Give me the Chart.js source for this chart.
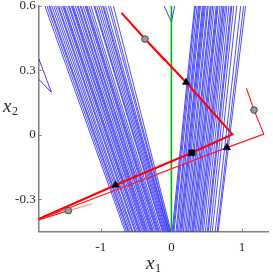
<!DOCTYPE html>
<html>
<head>
<meta charset="utf-8">
<script src="https://cdn.jsdelivr.net/npm/chart.js@4/dist/chart.umd.min.js"></script>
<style>
  html, body { margin: 0; padding: 0; background: #fff; }
  canvas { display: block; }
</style>
</head>
<body>
<canvas id="c" width="273" height="273"></canvas>
<script>
// ---- axis ranges & ticks ----
const X_RANGE = [-1.878, 1.367];
const Y_RANGE = [-0.451, 0.6];
const X_TICKS = [-1, 0, 1];
const Y_TICKS = [-0.3, 0, 0.3, 0.6];

// ---- blue line family (each line runs from the top edge to the bottom edge) ----
const LINE_Y_TOP = 0.6;
const LINE_Y_BOTTOM = -0.451;
const LEFT_TOP_X = [-1.791,-1.763,-1.736,-1.722,-1.694,-1.666,-1.639,-1.611,-1.597,-1.569,-1.542,-1.528,-1.514,-1.486,-1.459,-1.445,-1.417,-1.403,-1.389,-1.361,-1.334,-1.320,-1.292,-1.279,-1.251,-1.223,-1.209,-1.195,-1.168,-1.140,-1.098,-1.085,-1.057,-1.029,-1.001,-0.974,-0.960,-0.932,-0.891,-0.863,-0.821];
const LEFT_BOTTOM_X = [-0.655,-0.634,-0.614,-0.600,-0.579,-0.558,-0.544,-0.517,-0.503,-0.482,-0.461,-0.447,-0.434,-0.413,-0.392,-0.378,-0.364,-0.350,-0.336,-0.316,-0.295,-0.281,-0.267,-0.253,-0.233,-0.212,-0.198,-0.184,-0.169,-0.150,-0.127,-0.115,-0.100,-0.087,-0.073,-0.060,-0.046,-0.039,-0.025,-0.018,-0.004];
const RIGHT_BOTTOM_X = [0.010,0.024,0.037,0.065,0.079,0.100,0.120,0.134,0.148,0.169,0.190,0.211,0.231,0.245,0.266,0.287,0.301,0.315,0.335,0.356,0.377,0.398,0.412,0.432,0.453,0.481,0.508,0.522,0.550,0.578,0.619,0.647,0.661];
const RIGHT_TOP_X = [0.328,0.342,0.363,0.384,0.398,0.412,0.439,0.453,0.467,0.481,0.508,0.522,0.550,0.564,0.584,0.606,0.634,0.648,0.661,0.689,0.710,0.731,0.745,0.765,0.786,0.814,0.842,0.856,0.883,0.925,0.981,1.022,1.050];
const BLUE_V_X = [-0.105, 0.0, 0.047];
const BLUE_V_Y = [0.6, 0.524, 0.6];
const BLUE_TRI_X = [-1.878, -1.698, -1.878];
const BLUE_TRI_Y = [0.355, 0.197, 0.258];

// ---- green line ----
const GREEN_X = [0, 0];
const GREEN_Y = [-0.451, 0.6];

// ---- red trajectories ----
const RED_A_X = [-0.706, -0.374, 0.208, 0.864, 0.287, -0.789, -1.878];
const RED_A_Y = [0.567, 0.445, 0.244, 0.002, -0.084, -0.234, -0.392];
const RED_C_X = [1.062, 1.169, 1.307, 0.785, -1.878];
const RED_C_Y = [0.216, 0.115, 0.003, -0.060, -0.394];
const RED_D_X = [-1.878, -1.458];
const RED_D_Y = [-0.397, -0.353];
const RED_B_LIGHT_X = [-0.374, -0.105];
const RED_B_LIGHT_Y = [0.445, 0.344];
const RED_D_LIGHT_X = [-1.458, -1.126];
const RED_D_LIGHT_Y = [-0.353, -0.322];

// ---- markers ----
const CIRCLE_X = [-0.374, 1.169, -1.458];
const CIRCLE_Y = [0.445, 0.115, -0.353];
const TRIANGLE_X = [0.208, -0.789, 0.785];
const TRIANGLE_Y = [0.244, -0.234, -0.060];
const SQUARE_X = [0.287];
const SQUARE_Y = [-0.084];

const pts = (xs, ys) => xs.map((x, i) => ({x, y: ys[i]}));
const lineDs = (data, color, width, order) => ({
  data, showLine: true, borderColor: color, borderWidth: width,
  pointRadius: 0, fill: false, order, tension: 0, borderJoinStyle: 'miter'
});

const datasets = [];
const BLUE = 'rgba(0,0,255,0.78)';
LEFT_TOP_X.forEach((xt, i) => {
  datasets.push(lineDs(pts([xt, LEFT_BOTTOM_X[i]], [LINE_Y_TOP, LINE_Y_BOTTOM]), BLUE, 0.9, 5));
});
RIGHT_TOP_X.forEach((xt, i) => {
  datasets.push(lineDs(pts([RIGHT_BOTTOM_X[i], xt], [LINE_Y_BOTTOM, LINE_Y_TOP]), BLUE, 0.9, 5));
});
datasets.push(lineDs(pts(BLUE_V_X, BLUE_V_Y), BLUE, 1, 5));
datasets.push(lineDs(pts(BLUE_TRI_X, BLUE_TRI_Y), BLUE, 1, 5));
datasets.push(lineDs(pts(GREEN_X, GREEN_Y), '#00b400', 1.6, 4));
datasets.push(lineDs(pts(RED_B_LIGHT_X, RED_B_LIGHT_Y), 'rgba(255,60,60,0.55)', 1.2, 3));
datasets.push(lineDs(pts(RED_D_LIGHT_X, RED_D_LIGHT_Y), 'rgba(255,60,60,0.55)', 1.2, 3));
datasets.push(lineDs(pts(RED_C_X, RED_C_Y), '#ff1a1a', 1.1, 2));
datasets.push(lineDs(pts(RED_D_X, RED_D_Y), '#ff1a1a', 1.1, 2));
datasets.push(lineDs(pts(RED_A_X, RED_A_Y), '#ff0000', 2, 2));
datasets.push({ data: pts(CIRCLE_X, CIRCLE_Y), showLine: false, pointStyle: 'circle', pointRadius: 3.3,
  pointBackgroundColor: '#9a9a9a', pointBorderColor: '#4a4a4a', pointBorderWidth: 1, order: 0 });
datasets.push({ data: pts(TRIANGLE_X, TRIANGLE_Y), showLine: false, pointStyle: 'triangle', pointRadius: 4.3,
  pointBackgroundColor: '#000', pointBorderColor: '#000', pointBorderWidth: 0.5, order: 0 });
datasets.push({ data: pts(SQUARE_X, SQUARE_Y), showLine: false, pointStyle: 'rect', pointRadius: 4.2,
  pointBackgroundColor: '#000', pointBorderColor: '#000', pointBorderWidth: 0.5, order: 0 });

const fmt = v => (Math.abs(v) < 1e-9 ? '0' : String(v));
const SERIF = '"Liberation Serif", "Times New Roman", "DejaVu Serif", serif';

const axisDecor = {
  id: 'axisDecor',
  afterDraw(chart) {
    const {ctx, chartArea: a, scales: {x, y}} = chart;
    ctx.save();
    ctx.strokeStyle = '#7f7f7f';
    ctx.lineWidth = 1;
    X_TICKS.forEach(v => {
      const px = Math.round(x.getPixelForValue(v)) + 0.5;
      ctx.beginPath(); ctx.moveTo(px, a.bottom); ctx.lineTo(px, a.bottom - 3); ctx.stroke();
    });
    Y_TICKS.forEach(v => {
      const py = Math.round(y.getPixelForValue(v)) + 0.5;
      ctx.beginPath(); ctx.moveTo(a.left, py); ctx.lineTo(a.left + 3, py); ctx.stroke();
    });
    // axis titles with subscripts
    ctx.fillStyle = '#262626';
    ctx.textBaseline = 'alphabetic';
    ctx.textAlign = 'left';
    const drawSub = (base, sub, xL, yB) => {
      ctx.font = 'italic 19px ' + SERIF;
      ctx.fillText(base, xL, yB);
      const w = ctx.measureText(base).width;
      ctx.font = '12px ' + SERIF;
      ctx.fillText(sub, xL + w + 0.5, yB + 3);
    };
    drawSub('x', '1', 146, 269);
    drawSub('x', '2', 3, 112);
    ctx.restore();
  }
};

new Chart(document.getElementById('c'), {
  type: 'scatter',
  data: { datasets },
  options: {
    responsive: false,
    animation: false,
    events: [],
    layout: { padding: { left: 0, right: 0, top: 5.7, bottom: 0 } },
    plugins: { legend: { display: false }, tooltip: { enabled: false } },
    scales: {
      x: {
        type: 'linear', min: X_RANGE[0], max: X_RANGE[1],
        afterBuildTicks: s => { s.ticks = X_TICKS.map(v => ({ value: v })); },
        afterFit: s => { s.height = 41.3; },
        grid: { display: true, color: 'rgba(0,0,0,0)', drawTicks: false },
        border: { display: true, color: '#7f7f7f', width: 1.5 },
        ticks: { font: { family: SERIF, size: 13, lineHeight: 1 }, color: '#262626', padding: 9, autoSkip: false, maxRotation: 0, callback: v => fmt(v) }
      },
      y: {
        type: 'linear', min: Y_RANGE[0], max: Y_RANGE[1],
        afterBuildTicks: s => { s.ticks = Y_TICKS.map(v => ({ value: v })); },
        afterFit: s => { s.width = 38.7; },
        grid: { display: true, color: 'rgba(0,0,0,0)', drawTicks: false },
        border: { display: true, color: '#7f7f7f', width: 1.5 },
        ticks: { font: { family: SERIF, size: 13, lineHeight: 0.4 }, color: '#262626', padding: 3, autoSkip: false, callback: v => fmt(v) }
      }
    }
  },
  plugins: [axisDecor]
});
</script>
</body>
</html>
